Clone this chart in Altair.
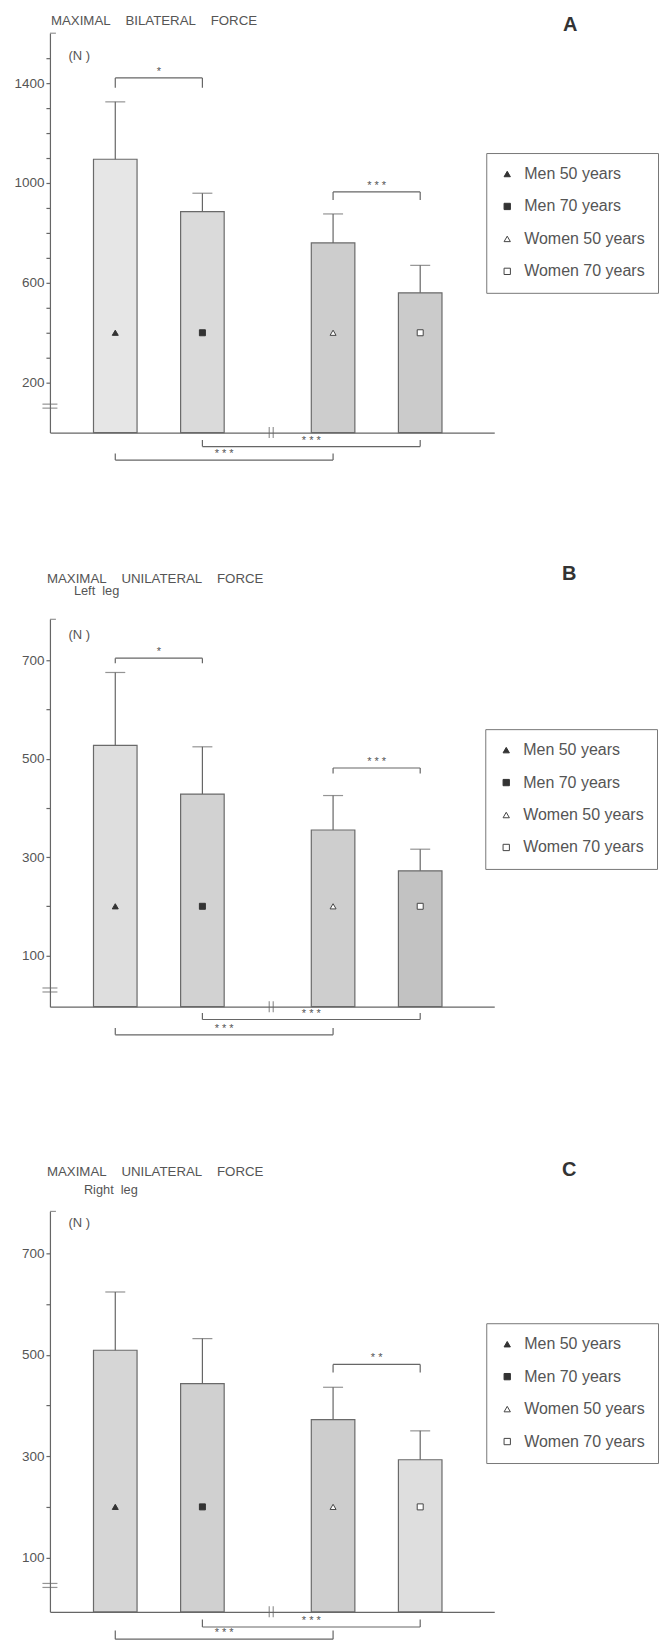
import altair as alt
import pandas as pd

FONT = "Liberation Sans"

# ---------------- data ----------------
groups = ["Men 50 years", "Men 70 years", "Women 50 years", "Women 70 years"]

# A: maximal bilateral force (N)
a_mean = [1095, 885, 760, 560]
a_sd = [230, 74, 116, 110]
# B: maximal unilateral force, left leg (N)
b_mean = [527, 428, 355, 272]
b_sd = [148, 96, 70, 44]
# C: maximal unilateral force, right leg (N)
c_mean = [509, 443, 372, 293]
c_sd = [115, 89, 64, 57]

# level of the group symbols drawn inside the bars
a_marker = 400
b_marker = 200
c_marker = 200

# y axis ticks and the labelled ones
a_ticks = [200, 300, 400, 500, 600, 700, 800, 900, 1000, 1100, 1200, 1300, 1400, 1500]
a_labels = [200, 600, 1000, 1400]
b_ticks = [100, 200, 300, 400, 500, 600, 700]
b_labels = [100, 300, 500, 700]
c_ticks = [100, 200, 300, 400, 500, 600, 700]
c_labels = [100, 300, 500, 700]

# y scale domains (axis is broken near the bottom)
a_domain = [0, 1600]
b_domain = [-4, 783]
c_domain = [-7, 783]
# axis-break positions
a_ybreak = 106
b_ybreak = 30
c_ybreak = 45

# significance brackets: first group, second group, bar level, tip level, stars
a_brackets = [(0, 1, 1421, 1382, "*"), (2, 3, 964, 932, "***"),
              (1, 3, -56, -30, "***"), (0, 2, -110, -84, "***")]
b_brackets = [(0, 1, 704, 694, "*"), (2, 3, 481, 470, "***"),
              (1, 3, -30, -17, "***"), (0, 2, -61, -47, "***")]
c_brackets = [(2, 3, 481, 465, "**"),
              (1, 3, -37, -22, "***"), (0, 2, -61, -44, "***")]

# panel headings
a_title = ["MAXIMAL BILATERAL FORCE"]
b_title = ["MAXIMAL UNILATERAL FORCE", "Left leg"]
c_title = ["MAXIMAL UNILATERAL FORCE", "Right leg"]

# ---------------- style ----------------
W = 445
X_DOMAIN = [-0.75, 4.35]
LINE = "#666666"
TEXT = "#555555"
NB = "\u00a0"


def slot(i):
    # men bars side by side, wider gap before the women bars
    return i + (0.5 if i >= 2 else 0.0)


def wide(s, n):
    return s.replace(" ", NB * n)


def panel(letter, title_lines, title_pos, means, sds, marker, y_dom, height, ticks, labels,
          brackets, y_break, bar_greys, legend_xy, letter_xy, n_title_y):
    xs = alt.Scale(domain=X_DOMAIN, nice=False, zero=False)
    ys = alt.Scale(domain=y_dom, nice=False, zero=False)

    lab_list = "[" + ",".join(str(v) for v in labels) + "]"
    y_axis = alt.Axis(
        values=ticks, format="d",
        labelExpr=f"indexof({lab_list}, datum.value) >= 0 ? datum.label : ''",
        tickSize=4, tickColor=LINE, tickWidth=1.2,
        domainColor=LINE, domainWidth=1.2,
        labelColor=TEXT, labelFont=FONT, labelFontSize=13.5, labelPadding=2,
        grid=False, minExtent=36, maxExtent=36,
        title="(N )", titleAngle=0, titleAlign="left", titleBaseline="middle",
        titleX=18, titleY=n_title_y, titleFont=FONT, titleFontSize=13,
        titleFontWeight="normal", titleColor=TEXT,
    )
    x_axis = alt.Axis(ticks=False, labels=False, title=None, grid=False,
                      domainColor=LINE, domainWidth=1.2)

    def X(f):
        return alt.X(f, scale=xs, axis=x_axis, title=None)

    def Y(f):
        return alt.Y(f, scale=ys, axis=y_axis, title="(N )")

    def XD(v):
        return alt.XDatum(v, scale=xs, axis=x_axis, title=None)

    def YD(v):
        return alt.YDatum(v, scale=ys, axis=y_axis, title="(N )")

    df = pd.DataFrame({"group": groups, "mean": means, "sd": sds,
                       "slot": [slot(i) for i in range(len(groups))]})
    base = alt.Chart(df).transform_calculate(
        upper="datum.mean + datum.sd",
        left="datum.slot - 0.25",
        right="datum.slot + 0.25",
    )

    # bar shading: scale domain taken from the data, so it is not merged with the symbol legend
    bars = base.mark_bar(stroke="#6a6a6a", strokeWidth=1.2).encode(
        x=X("left:Q"), x2="right:Q",
        y=Y("mean:Q"), y2=alt.Y2Datum(y_dom[0]),
        color=alt.Color("group:N", sort=groups, scale=alt.Scale(range=bar_greys), legend=None),
    )
    err = base.mark_rule(color=LINE, strokeWidth=1.2).encode(
        x=X("slot:Q"), y=Y("mean:Q"), y2="upper:Q")
    caps = base.mark_tick(orient="horizontal", size=20, thickness=1.2, color=LINE).encode(
        x=X("slot:Q"), y=Y("upper:Q"))

    leg = alt.Legend(
        title=None, orient="none", legendX=legend_xy[0], legendY=legend_xy[1],
        padding=13, strokeColor="#777777", fillColor="white",
        labelFont=FONT, labelFontSize=16, labelColor=TEXT, labelOffset=9,
        rowPadding=16.5, symbolSize=40, symbolStrokeWidth=1,
    )
    markers = base.mark_point(filled=True, strokeWidth=1, opacity=1, size=36).encode(
        x=X("slot:Q"), y=YD(marker),
        shape=alt.Shape("group:N", scale=alt.Scale(
            domain=groups, range=["triangle-up", "square", "triangle-up", "square"]), legend=leg),
        fill=alt.Fill("group:N", scale=alt.Scale(
            domain=groups, range=["#333333", "#333333", "white", "white"]), legend=leg),
        stroke=alt.Stroke("group:N", scale=alt.Scale(
            domain=groups, range=["#333333", "#333333", "#444444", "#444444"]), legend=leg),
    )

    bdf = pd.DataFrame({
        "s1": [slot(b[0]) for b in brackets],
        "s2": [slot(b[1]) for b in brackets],
        "level": [b[2] for b in brackets],
        "tip": [b[3] for b in brackets],
        "label": [b[4] for b in brackets],
    })
    br = alt.Chart(bdf)
    hline = br.mark_rule(color=LINE, strokeWidth=1.2).encode(
        x=X("s1:Q"), x2="s2:Q", y=Y("level:Q"))
    lend = br.mark_rule(color=LINE, strokeWidth=1.2).encode(
        x=X("s1:Q"), y=Y("level:Q"), y2="tip:Q")
    rend = br.mark_rule(color=LINE, strokeWidth=1.2).encode(
        x=X("s2:Q"), y=Y("level:Q"), y2="tip:Q")
    stars = br.transform_calculate(
        mid="(datum.s1 + datum.s2) / 2",
        txt="join(split(datum.label, ''), ' ')",
    ).mark_text(font=FONT, fontSize=11, dy=-6, baseline="middle", color=TEXT).encode(
        x=X("mid:Q"), y=Y("level:Q"), text="txt:N")

    brk = alt.Chart(pd.DataFrame({"v": [y_break]}))
    ybrk = [brk.mark_tick(orient="horizontal", size=15, thickness=1.2, color=LINE, yOffset=o).encode(
        x=XD(X_DOMAIN[0]), y=Y("v:Q")) for o in (-2, 2)]
    xbrk = [brk.mark_tick(orient="vertical", size=11, thickness=1.2, color=LINE, xOffset=o).encode(
        x=XD(1.79), y=YD(y_dom[0])) for o in (-2, 2)]
    stub = brk.mark_tick(orient="horizontal", size=6, thickness=1.2, color=LINE, xOffset=3).encode(
        x=XD(X_DOMAIN[0]), y=YD(y_dom[1]))

    tag = alt.Chart(pd.DataFrame({"p": [letter]})).mark_text(
        font=FONT, fontSize=20, fontWeight="bold", color="#333333",
        align="center", baseline="middle").encode(
        text="p:N", x=alt.value(letter_xy[0]), y=alt.value(letter_xy[1]))

    heads = []
    for i, line in enumerate(title_lines):
        hx, hy = title_pos[i]
        heads.append(alt.Chart(pd.DataFrame({"t": [wide(line, 4 if i == 0 else 2)]})).mark_text(
            font=FONT, fontSize=13.3 if i == 0 else 12.8, color=TEXT,
            align="left", baseline="alphabetic").encode(
            text="t:N", x=alt.value(hx), y=alt.value(hy)))

    return alt.layer(bars, err, caps, markers, hline, lend, rend, stars,
                     *ybrk, *xbrk, stub, tag, *heads).properties(width=W, height=height)


pA = panel("A", a_title, [(1, -8)], a_mean, a_sd, a_marker,
           a_domain, 400, a_ticks, a_labels, a_brackets, a_ybreak,
           ["#e6e6e6", "#dadada", "#cdcdcd", "#cbcbcb"],
           (437, 120), (521, -8), 22)
pB = panel("B", b_title, [(-3, -36), (24, -24)], b_mean, b_sd, b_marker,
           b_domain, 388, b_ticks, b_labels, b_brackets, b_ybreak,
           ["#dedede", "#d2d2d2", "#cecece", "#c2c2c2"],
           (436, 110), (520, -45), 15)
pC = panel("C", c_title, [(-3, -35), (34, -17)], c_mean, c_sd, c_marker,
           c_domain, 401, c_ticks, c_labels, c_brackets, c_ybreak,
           ["#d6d6d6", "#d0d0d0", "#cdcdcd", "#dedede"],
           (437, 112), (520, -41), 11)

indep = dict(x="independent", y="independent", color="independent",
             fill="independent", shape="independent", stroke="independent")
leg_indep = dict(fill="independent", shape="independent", stroke="independent")

top = alt.vconcat(pA, pB, spacing=103).resolve_scale(**indep).resolve_legend(**leg_indep)
chart = alt.vconcat(top, pC, spacing=125).resolve_scale(**indep).resolve_legend(**leg_indep)
chart = chart.properties(padding={"left": 5, "top": 5, "right": 0, "bottom": 0})
chart = chart.configure(background="white", font=FONT).configure_view(stroke=None, strokeWidth=0)

chart.save("out.html", embed_options={"renderer": "svg", "actions": False})
